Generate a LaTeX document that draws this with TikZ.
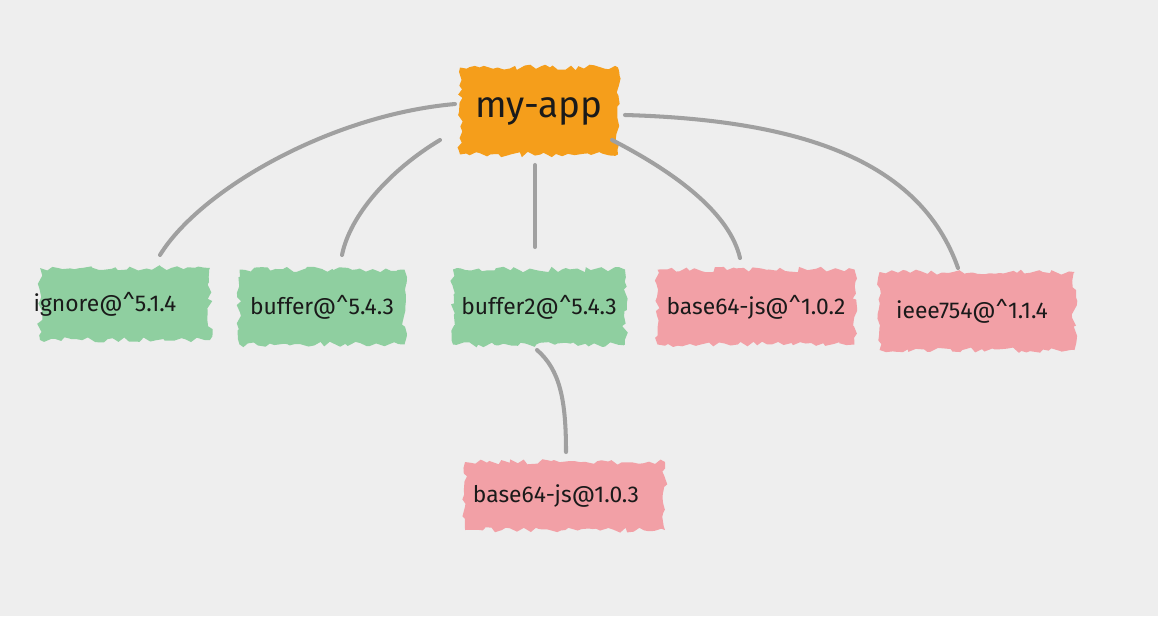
\documentclass[tikz,border=0pt]{standalone}
\usepackage{fontspec}
\setmainfont{Fira Sans}
\usetikzlibrary{calc,decorations.pathmorphing}
\definecolor{bg}{HTML}{EEEEEE}
\definecolor{appc}{HTML}{F59E1B}
\definecolor{greenc}{HTML}{8FCFA0}
\definecolor{pinkc}{HTML}{F2A0A6}
\definecolor{linec}{HTML}{A0A0A0}
\definecolor{txt}{HTML}{1A1A1A}
\begin{document}
\begin{tikzpicture}[x=0.02cm,y=-0.02cm,
  blob/.style={inner sep=0pt, text=txt, font=\fontsize{13}{15}\selectfont,
    decorate, decoration={random steps,segment length=3pt,amplitude=1.6pt}},
  gblob/.style={blob, fill=greenc},
  pblob/.style={blob, fill=pinkc},
  link/.style={draw=linec, line width=2.3pt, line cap=round}]
\fill[bg] (0,0) rectangle (1158,616);
\useasboundingbox (0,0) rectangle (1158,616);

\node[blob, fill=appc, minimum width=3.16cm, minimum height=1.74cm,
  font=\fontsize{21}{24}\selectfont] (app) at (539,111) {my-app};
\node[gblob, minimum width=3.4cm, minimum height=1.44cm] (ignore) at (125,304)
  {\kern-0.8cm ignore@\textasciicircum5.1.4};
\node[gblob, minimum width=3.3cm, minimum height=1.5cm] (buffer) at (322,307)
  {buffer@\textasciicircum5.4.3};
\node[gblob, minimum width=3.44cm, minimum height=1.5cm] (buffer2) at (539,307)
  {buffer2@\textasciicircum5.4.3};
\node[pblob, minimum width=3.94cm, minimum height=1.5cm] (b64a) at (756,307)
  {base64-js@\textasciicircum1.0.2};
\node[pblob, minimum width=3.9cm, minimum height=1.56cm] (ieee) at (977,311)
  {\kern-0.2cm ieee754@\textasciicircum1.1.4};
\node[pblob, minimum width=4.0cm, minimum height=1.36cm] (b64b) at (565,496)
  {\kern-0.36cm base64-js@1.0.3};

\draw[link] ($(app.center)+(-84,-7)$) .. controls (330,115) and (200,190) .. ($(ignore.center)+(35,-49)$);
\draw[link] ($(app.center)+(-99,29)$) .. controls (390,170) and (350,215) .. ($(buffer.center)+(20,-52)$);
\draw[link] ($(app.center)+(-4,54)$) -- ($(buffer2.center)+(-4,-60)$);
\draw[link] ($(app.center)+(73,29)$) .. controls (680,175) and (730,215) .. ($(b64a.center)+(-16,-49)$);
\draw[link] ($(app.center)+(86,4)$) .. controls (800,120) and (920,160) .. ($(ieee.center)+(-19,-43)$);
\draw[link] ($(buffer2.center)+(-2,43)$) .. controls (560,370) and (566,400) .. ($(b64b.center)+(1,-44)$);
\end{tikzpicture}
\end{document}
